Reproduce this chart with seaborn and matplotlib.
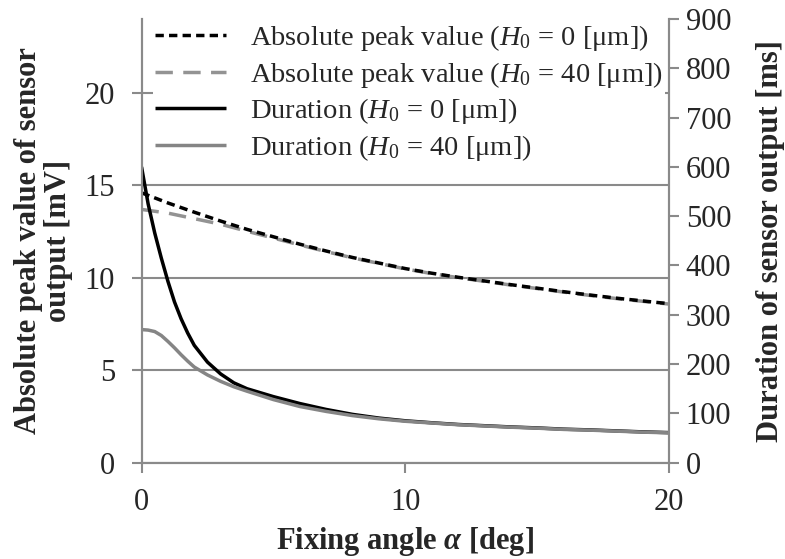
import numpy as np
import pandas as pd
import matplotlib
matplotlib.use("Agg")
import matplotlib.pyplot as plt
import seaborn as sns

# ---- data ----
angle_peak = [0, 1, 2, 3, 4, 5, 6, 7, 8, 9, 10, 11, 12, 13, 14, 15, 16, 17, 18, 19, 20]
peak_h0 = [14.6, 14.05, 13.55, 13.07, 12.62, 12.22, 11.82, 11.45, 11.1, 10.8, 10.5,
           10.25, 10.03, 9.83, 9.63, 9.44, 9.25, 9.07, 8.9, 8.75, 8.6]
peak_h40 = [13.7, 13.5, 13.2, 12.9, 12.52, 12.15, 11.78, 11.42, 11.08, 10.78, 10.48,
            10.23, 10.01, 9.81, 9.61, 9.42, 9.23, 9.05, 8.88, 8.73, 8.58]

angle_dur = [0, 0.25, 0.5, 0.75, 1, 1.25, 1.5, 1.75, 2, 2.5, 3, 3.5, 4, 5, 6, 7, 8, 9, 10,
             11, 12, 13, 14, 15, 16, 17, 18, 19, 20]
dur_h0 = [600, 525, 466, 415, 368, 326, 292, 263, 238, 204, 180, 162, 150, 134, 120, 108,
          98, 90.5, 85, 81, 77.5, 75, 72.5, 70.5, 68, 66.5, 64.5, 62.5, 61]
dur_h40 = [270, 269, 266, 258, 246, 233, 219, 206, 194, 178, 165, 154, 145, 128, 114, 104,
           95.5, 89, 84, 80.5, 77, 74.5, 72, 70, 67.5, 66, 64, 62, 60.5]

df_peak = pd.DataFrame({"angle": angle_peak, "h0": peak_h0, "h40": peak_h40})
df_dur = pd.DataFrame({"angle": angle_dur, "h0": dur_h0, "h40": dur_h40})

sns.set_style("white")
plt.rcParams["font.family"] = ["Liberation Serif", "DejaVu Serif"]
plt.rcParams["mathtext.fontset"] = "custom"
plt.rcParams["mathtext.rm"] = "Liberation Serif"
plt.rcParams["mathtext.it"] = "Liberation Serif:italic"
plt.rcParams["mathtext.bf"] = "Liberation Serif:bold:italic"

AX_GRAY = "#8a8a8a"
LW = 2.5

fig = plt.figure(figsize=(7.85, 5.59), dpi=100)
fig.subplots_adjust(left=0.1803, right=0.8522, bottom=0.1723, top=0.966)
ax = fig.add_subplot(111)
ax2 = ax.twinx()

sns.lineplot(data=df_peak, x="angle", y="h0", ax=ax, color="black", lw=LW,
             label=r"Absolute peak value ($H_0$ = 0 [μm])", legend=False)
ax.lines[-1].set_linestyle((0, (2.4, 1.5)))
sns.lineplot(data=df_peak, x="angle", y="h40", ax=ax, color="#939393", lw=LW,
             label=r"Absolute peak value ($H_0$ = 40 [μm])", legend=False)
ax.lines[-1].set_linestyle((0, (5.0, 3.0)))
ax.lines[0].set_zorder(3)
ax.lines[1].set_zorder(2.5)

sns.lineplot(data=df_dur, x="angle", y="h0", ax=ax2, color="black", lw=LW,
             label=r"Duration ($H_0$ = 0 [μm])", legend=False)
sns.lineplot(data=df_dur, x="angle", y="h40", ax=ax2, color="#858585", lw=LW,
             label=r"Duration ($H_0$ = 40 [μm])", legend=False)
for ln in ax.lines + ax2.lines:
    ln.set_solid_capstyle("butt")

ax.set_xlim(0, 20)
ax.set_ylim(0, 24)
ax2.set_ylim(0, 900)
ax.set_xticks([0, 10, 20])
ax.set_yticks([0, 5, 10, 15, 20])
ax2.set_yticks(np.arange(0, 901, 100))

ax.grid(axis="y", color=AX_GRAY, lw=1.5)
ax.grid(axis="x", visible=False)
ax.set_axisbelow(True)

for a in (ax, ax2):
    for s in a.spines.values():
        s.set_color(AX_GRAY)
        s.set_linewidth(1.5)
    a.spines["top"].set_visible(False)

ax.tick_params(axis="y", direction="out", length=7, width=1.5, color=AX_GRAY,
               labelsize=22, pad=12, left=True)
ax.tick_params(axis="x", direction="out", length=7, width=1.5, color=AX_GRAY,
               labelsize=22, pad=11, bottom=True)
ax2.tick_params(axis="y", direction="out", length=7, width=1.5, color=AX_GRAY,
                labelsize=22, pad=5, right=True)

ax.set_xlabel(r"Fixing angle $\mathbf{\alpha}$ [deg]", fontsize=22, fontweight="bold")
ax.set_ylabel("Absolute peak value of sensor\noutput [mV]", fontsize=22,
              fontweight="bold", linespacing=1.05)
ax2.set_ylabel("Duration of sensor output [ms]", fontsize=22, fontweight="bold")
ax.xaxis.set_label_coords(0.5, -0.14)
ax.yaxis.set_label_coords(-0.13, 0.5)
ax2.yaxis.set_label_coords(1.165, 0.5)

handles = ax.lines[:2] + ax2.lines[:2]
labels = [h.get_label() for h in handles]
leg = ax2.legend(handles, labels, loc="upper left", bbox_to_anchor=(0.017, 1.0),
                 fontsize=20.5, frameon=True, facecolor="white", edgecolor="none",
                 fancybox=False, framealpha=1, handlelength=2.5, handletextpad=0.85,
                 labelspacing=0.23, borderpad=0.05, borderaxespad=0.1)
leg.set_zorder(10)

fig.savefig("out.png", dpi=100)
